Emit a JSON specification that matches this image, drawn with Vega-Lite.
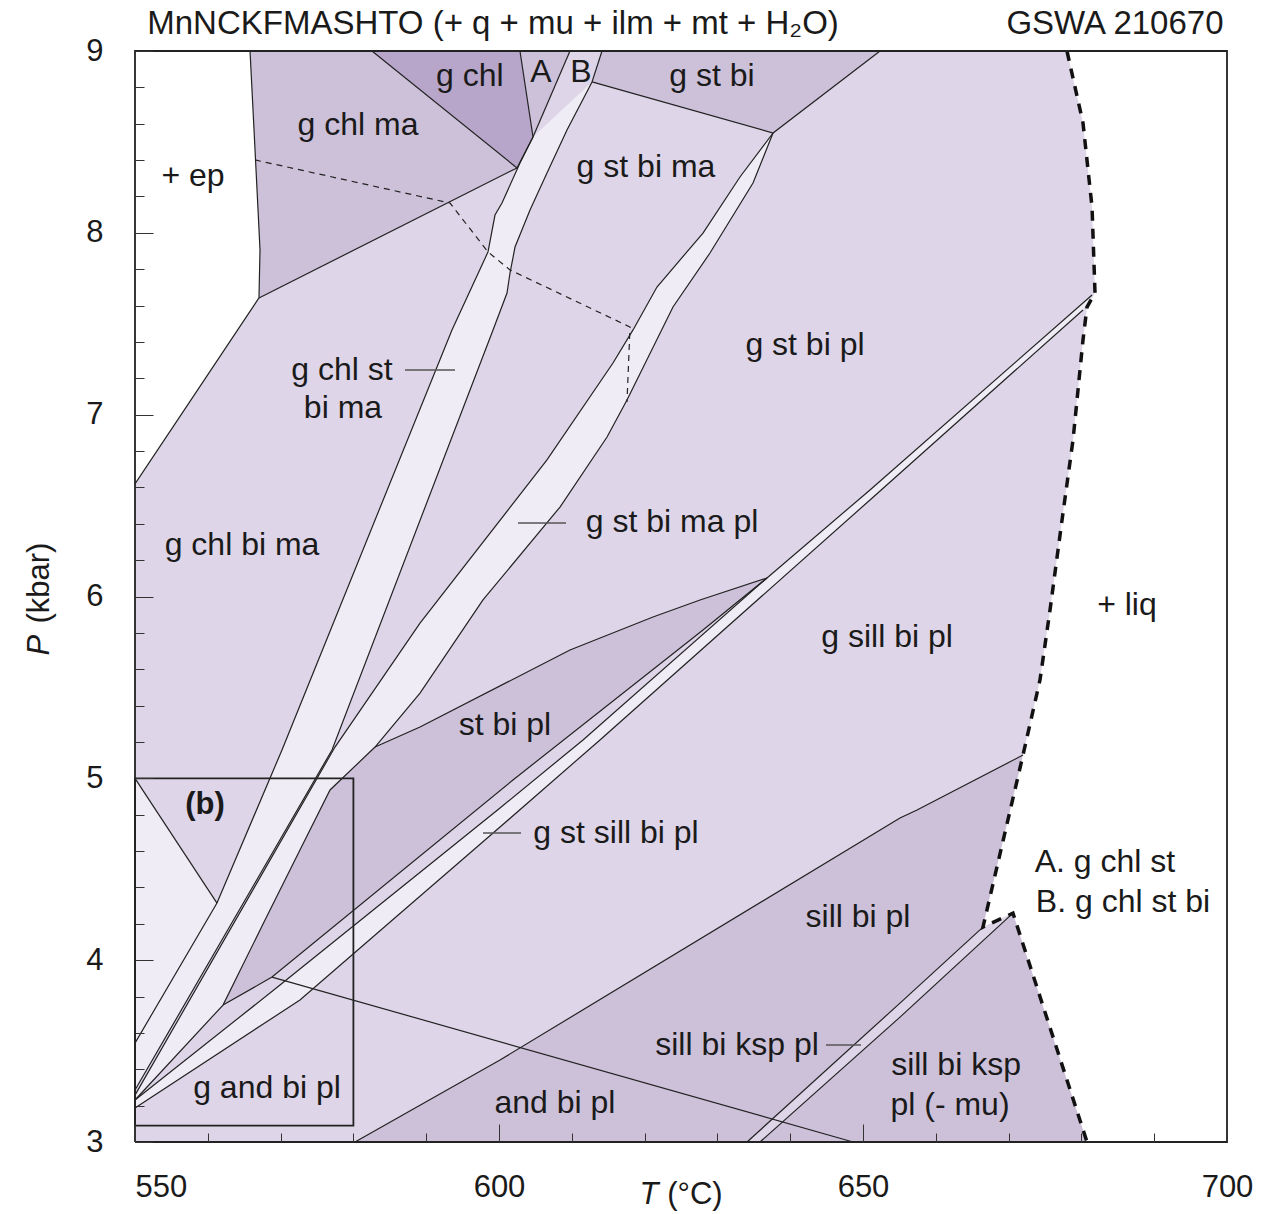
{
"$schema": "https://vega.github.io/schema/vega-lite/v6.json",
"width": 1092, "height": 1091,
"autosize": {"type": "none"},
"padding": {"left": 135, "top": 51, "right": 35, "bottom": 72},
"config": {"font": "Liberation Sans", "view": {"stroke": null}},
"datasets": {
"polys": [
{"region":"plot","tone":"mid","i":0,"T":550,"P":3},{"region":"plot","tone":"mid","i":1,"T":700,"P":3},{"region":"plot","tone":"mid","i":2,"T":700,"P":9},{"region":"plot","tone":"mid","i":3,"T":550,"P":9},
{"region":"g chl ma","tone":"dark","i":0,"T":565.8,"P":9},{"region":"g chl ma","tone":"dark","i":1,"T":582.55,"P":9},{"region":"g chl ma","tone":"dark","i":2,"T":602.47,"P":8.357},{"region":"g chl ma","tone":"dark","i":3,"T":567.03,"P":7.642},{"region":"g chl ma","tone":"dark","i":4,"T":567.17,"P":7.906},{"region":"g chl ma","tone":"dark","i":5,"T":566.9,"P":8.126},{"region":"g chl ma","tone":"dark","i":6,"T":566.35,"P":8.566},
{"region":"g chl","tone":"darkest","i":0,"T":582.55,"P":9},{"region":"g chl","tone":"darkest","i":1,"T":602.88,"P":9},{"region":"g chl","tone":"darkest","i":2,"T":604.67,"P":8.527},{"region":"g chl","tone":"darkest","i":3,"T":602.47,"P":8.357},
{"region":"A","tone":"dark","i":0,"T":602.88,"P":9},{"region":"A","tone":"dark","i":1,"T":609.75,"P":9},{"region":"A","tone":"dark","i":2,"T":604.67,"P":8.527},
{"region":"g st bi","tone":"dark","i":0,"T":614.15,"P":9},{"region":"g st bi","tone":"dark","i":1,"T":652.34,"P":9},{"region":"g st bi","tone":"dark","i":2,"T":637.64,"P":8.549},{"region":"g st bi","tone":"dark","i":3,"T":612.78,"P":8.83},
{"region":"st bi pl","tone":"dark","i":0,"T":636.81,"P":6.102},{"region":"st bi pl","tone":"dark","i":1,"T":627.61,"P":5.981},{"region":"st bi pl","tone":"dark","i":2,"T":621.15,"P":5.887},{"region":"st bi pl","tone":"dark","i":3,"T":609.75,"P":5.706},{"region":"st bi pl","tone":"dark","i":4,"T":589.15,"P":5.282},{"region":"st bi pl","tone":"dark","i":5,"T":582.97,"P":5.172},{"region":"st bi pl","tone":"dark","i":6,"T":576.79,"P":4.936},{"region":"st bi pl","tone":"dark","i":7,"T":572.66,"P":4.606},{"region":"st bi pl","tone":"dark","i":8,"T":567.86,"P":4.221},{"region":"st bi pl","tone":"dark","i":9,"T":562.09,"P":3.753},{"region":"st bi pl","tone":"dark","i":10,"T":568.82,"P":3.907},{"region":"st bi pl","tone":"dark","i":11,"T":601.92,"P":4.991},{"region":"st bi pl","tone":"dark","i":12,"T":628.02,"P":5.816},
{"region":"bottom","tone":"dark","i":0,"T":580.22,"P":3},{"region":"bottom","tone":"dark","i":1,"T":600.14,"P":3.451},{"region":"bottom","tone":"dark","i":2,"T":655.08,"P":4.782},{"region":"bottom","tone":"dark","i":3,"T":657.42,"P":4.826},{"region":"bottom","tone":"dark","i":4,"T":671.98,"P":5.128},{"region":"bottom","tone":"dark","i":5,"T":666.48,"P":4.182},{"region":"bottom","tone":"dark","i":6,"T":670.6,"P":4.259},{"region":"bottom","tone":"dark","i":7,"T":680.77,"P":3},
{"region":"band1","tone":"light","i":0,"T":604.67,"P":8.527},{"region":"band1","tone":"light","i":1,"T":602.88,"P":8.384},{"region":"band1","tone":"light","i":2,"T":600.41,"P":8.164},{"region":"band1","tone":"light","i":3,"T":599.45,"P":8.098},{"region":"band1","tone":"light","i":4,"T":598.49,"P":7.895},{"region":"band1","tone":"light","i":5,"T":593.54,"P":7.466},{"region":"band1","tone":"light","i":6,"T":570.19,"P":5.156},{"region":"band1","tone":"light","i":7,"T":561.26,"P":4.314},{"region":"band1","tone":"light","i":8,"T":550,"P":3.544},{"region":"band1","tone":"light","i":9,"T":550,"P":3.286},{"region":"band1","tone":"light","i":10,"T":577.06,"P":5.156},{"region":"band1","tone":"light","i":11,"T":599.18,"P":7.466},{"region":"band1","tone":"light","i":12,"T":601.1,"P":7.669},{"region":"band1","tone":"light","i":13,"T":601.51,"P":7.779},{"region":"band1","tone":"light","i":14,"T":602.2,"P":7.922},{"region":"band1","tone":"light","i":15,"T":604.26,"P":8.126},{"region":"band1","tone":"light","i":16,"T":606.59,"P":8.329},{"region":"band1","tone":"light","i":17,"T":609.34,"P":8.566},{"region":"band1","tone":"light","i":18,"T":612.78,"P":8.83},
{"region":"band2","tone":"light","i":0,"T":637.64,"P":8.549},{"region":"band2","tone":"light","i":1,"T":633.1,"P":8.307},{"region":"band2","tone":"light","i":2,"T":628.02,"P":7.999},{"region":"band2","tone":"light","i":3,"T":621.7,"P":7.702},{"region":"band2","tone":"light","i":4,"T":618.41,"P":7.466},{"region":"band2","tone":"light","i":5,"T":615.66,"P":7.284},{"region":"band2","tone":"light","i":6,"T":606.59,"P":6.751},{"region":"band2","tone":"light","i":7,"T":589.15,"P":5.854},{"region":"band2","tone":"light","i":8,"T":577.47,"P":5.172},{"region":"band2","tone":"light","i":9,"T":550,"P":3.258},{"region":"band2","tone":"light","i":10,"T":550,"P":3.231},{"region":"band2","tone":"light","i":11,"T":562.09,"P":3.753},{"region":"band2","tone":"light","i":12,"T":567.86,"P":4.221},{"region":"band2","tone":"light","i":13,"T":572.66,"P":4.606},{"region":"band2","tone":"light","i":14,"T":576.79,"P":4.936},{"region":"band2","tone":"light","i":15,"T":582.97,"P":5.172},{"region":"band2","tone":"light","i":16,"T":589.15,"P":5.469},{"region":"band2","tone":"light","i":17,"T":597.8,"P":5.981},{"region":"band2","tone":"light","i":18,"T":608.38,"P":6.492},{"region":"band2","tone":"light","i":19,"T":614.84,"P":6.877},{"region":"band2","tone":"light","i":20,"T":617.58,"P":7.081},{"region":"band2","tone":"light","i":21,"T":623.9,"P":7.592},{"region":"band2","tone":"light","i":22,"T":628.98,"P":7.889},{"region":"band2","tone":"light","i":23,"T":634.89,"P":8.274},
{"region":"leftwedge","tone":"light","i":0,"T":550,"P":5.0},{"region":"leftwedge","tone":"light","i":1,"T":561.26,"P":4.314},{"region":"leftwedge","tone":"light","i":2,"T":550,"P":3.544},
{"region":"gstsill","tone":"light","i":0,"T":681.46,"P":7.658},{"region":"gstsill","tone":"light","i":1,"T":650.96,"P":6.586},{"region":"gstsill","tone":"light","i":2,"T":636.81,"P":6.102},{"region":"gstsill","tone":"light","i":3,"T":611.54,"P":5.211},{"region":"gstsill","tone":"light","i":4,"T":600.14,"P":4.837},{"region":"gstsill","tone":"light","i":5,"T":569.92,"P":3.863},{"region":"gstsill","tone":"light","i":6,"T":550,"P":3.231},{"region":"gstsill","tone":"light","i":7,"T":550,"P":3.187},{"region":"gstsill","tone":"light","i":8,"T":572.66,"P":3.781},{"region":"gstsill","tone":"light","i":9,"T":600.14,"P":4.732},{"region":"gstsill","tone":"light","i":10,"T":613.87,"P":5.211},{"region":"gstsill","tone":"light","i":11,"T":650.96,"P":6.531},{"region":"gstsill","tone":"light","i":12,"T":680.22,"P":7.576},
{"region":"kspband","tone":"mid","i":0,"T":666.48,"P":4.182},{"region":"kspband","tone":"mid","i":1,"T":655.08,"P":3.764},{"region":"kspband","tone":"mid","i":2,"T":634.07,"P":3.0},{"region":"kspband","tone":"mid","i":3,"T":635.85,"P":3.0},{"region":"kspband","tone":"mid","i":4,"T":655.08,"P":3.687},{"region":"kspband","tone":"mid","i":5,"T":670.6,"P":4.259},
{"region":"ep","tone":"white","i":0,"T":550,"P":9},{"region":"ep","tone":"white","i":1,"T":565.8,"P":9},{"region":"ep","tone":"white","i":2,"T":566.35,"P":8.566},{"region":"ep","tone":"white","i":3,"T":566.9,"P":8.126},{"region":"ep","tone":"white","i":4,"T":567.17,"P":7.906},{"region":"ep","tone":"white","i":5,"T":567.03,"P":7.642},{"region":"ep","tone":"white","i":6,"T":550,"P":6.619},
{"region":"liq","tone":"white","i":0,"T":678.02,"P":9},{"region":"liq","tone":"white","i":1,"T":680.22,"P":8.604},{"region":"liq","tone":"white","i":2,"T":681.46,"P":8.142},{"region":"liq","tone":"white","i":3,"T":681.87,"P":7.669},{"region":"liq","tone":"white","i":4,"T":680.77,"P":7.592},{"region":"liq","tone":"white","i":5,"T":680.22,"P":7.411},{"region":"liq","tone":"white","i":6,"T":678.85,"P":6.861},{"region":"liq","tone":"white","i":7,"T":677.34,"P":6.421},{"region":"liq","tone":"white","i":8,"T":675.69,"P":5.926},{"region":"liq","tone":"white","i":9,"T":674.31,"P":5.541},{"region":"liq","tone":"white","i":10,"T":671.98,"P":5.128},{"region":"liq","tone":"white","i":11,"T":666.48,"P":4.182},{"region":"liq","tone":"white","i":12,"T":670.6,"P":4.259},{"region":"liq","tone":"white","i":13,"T":680.77,"P":3.0},{"region":"liq","tone":"white","i":14,"T":700,"P":3},{"region":"liq","tone":"white","i":15,"T":700,"P":9}
],
"lines": [
{"line":"ep","kind":"solid","i":0,"T":565.8,"P":9},{"line":"ep","kind":"solid","i":1,"T":566.35,"P":8.566},{"line":"ep","kind":"solid","i":2,"T":566.9,"P":8.126},{"line":"ep","kind":"solid","i":3,"T":567.17,"P":7.906},{"line":"ep","kind":"solid","i":4,"T":567.03,"P":7.642},{"line":"ep","kind":"solid","i":5,"T":550,"P":6.619},
{"line":"chlma","kind":"solid","i":0,"T":567.03,"P":7.642},{"line":"chlma","kind":"solid","i":1,"T":602.47,"P":8.357},
{"line":"gchl","kind":"solid","i":0,"T":582.55,"P":9},{"line":"gchl","kind":"solid","i":1,"T":602.47,"P":8.357},
{"line":"Aleft","kind":"solid","i":0,"T":602.88,"P":9},{"line":"Aleft","kind":"solid","i":1,"T":604.67,"P":8.527},{"line":"Aleft","kind":"solid","i":2,"T":602.47,"P":8.357},
{"line":"AB","kind":"solid","i":0,"T":609.75,"P":9},{"line":"AB","kind":"solid","i":1,"T":604.67,"P":8.527},
{"line":"Bright","kind":"solid","i":0,"T":614.15,"P":9},{"line":"Bright","kind":"solid","i":1,"T":612.78,"P":8.83},
{"line":"gstbi","kind":"solid","i":0,"T":612.78,"P":8.83},{"line":"gstbi","kind":"solid","i":1,"T":637.64,"P":8.549},{"line":"gstbi","kind":"solid","i":2,"T":652.34,"P":9},
{"line":"L1","kind":"solid","i":0,"T":604.67,"P":8.527},{"line":"L1","kind":"solid","i":1,"T":602.88,"P":8.384},{"line":"L1","kind":"solid","i":2,"T":600.41,"P":8.164},{"line":"L1","kind":"solid","i":3,"T":599.45,"P":8.098},{"line":"L1","kind":"solid","i":4,"T":598.49,"P":7.895},{"line":"L1","kind":"solid","i":5,"T":593.54,"P":7.466},{"line":"L1","kind":"solid","i":6,"T":570.19,"P":5.156},{"line":"L1","kind":"solid","i":7,"T":561.26,"P":4.314},{"line":"L1","kind":"solid","i":8,"T":550,"P":3.544},
{"line":"R1","kind":"solid","i":0,"T":612.78,"P":8.83},{"line":"R1","kind":"solid","i":1,"T":609.34,"P":8.566},{"line":"R1","kind":"solid","i":2,"T":606.59,"P":8.329},{"line":"R1","kind":"solid","i":3,"T":604.26,"P":8.126},{"line":"R1","kind":"solid","i":4,"T":602.2,"P":7.922},{"line":"R1","kind":"solid","i":5,"T":601.51,"P":7.779},{"line":"R1","kind":"solid","i":6,"T":601.1,"P":7.669},{"line":"R1","kind":"solid","i":7,"T":599.18,"P":7.466},{"line":"R1","kind":"solid","i":8,"T":577.06,"P":5.156},{"line":"R1","kind":"solid","i":9,"T":550,"P":3.286},
{"line":"L2","kind":"solid","i":0,"T":637.64,"P":8.549},{"line":"L2","kind":"solid","i":1,"T":633.1,"P":8.307},{"line":"L2","kind":"solid","i":2,"T":628.02,"P":7.999},{"line":"L2","kind":"solid","i":3,"T":621.7,"P":7.702},{"line":"L2","kind":"solid","i":4,"T":618.41,"P":7.466},{"line":"L2","kind":"solid","i":5,"T":615.66,"P":7.284},{"line":"L2","kind":"solid","i":6,"T":606.59,"P":6.751},{"line":"L2","kind":"solid","i":7,"T":589.15,"P":5.854},{"line":"L2","kind":"solid","i":8,"T":577.47,"P":5.172},{"line":"L2","kind":"solid","i":9,"T":550,"P":3.258},
{"line":"R2","kind":"solid","i":0,"T":637.64,"P":8.549},{"line":"R2","kind":"solid","i":1,"T":634.89,"P":8.274},{"line":"R2","kind":"solid","i":2,"T":628.98,"P":7.889},{"line":"R2","kind":"solid","i":3,"T":623.9,"P":7.592},{"line":"R2","kind":"solid","i":4,"T":617.58,"P":7.081},{"line":"R2","kind":"solid","i":5,"T":614.84,"P":6.877},{"line":"R2","kind":"solid","i":6,"T":608.38,"P":6.492},{"line":"R2","kind":"solid","i":7,"T":597.8,"P":5.981},{"line":"R2","kind":"solid","i":8,"T":589.15,"P":5.469},{"line":"R2","kind":"solid","i":9,"T":582.97,"P":5.172},{"line":"R2","kind":"solid","i":10,"T":576.79,"P":4.936},{"line":"R2","kind":"solid","i":11,"T":572.66,"P":4.606},{"line":"R2","kind":"solid","i":12,"T":567.86,"P":4.221},{"line":"R2","kind":"solid","i":13,"T":562.09,"P":3.753},{"line":"R2","kind":"solid","i":14,"T":550,"P":3.231},
{"line":"stbiplU","kind":"solid","i":0,"T":636.81,"P":6.102},{"line":"stbiplU","kind":"solid","i":1,"T":627.61,"P":5.981},{"line":"stbiplU","kind":"solid","i":2,"T":621.15,"P":5.887},{"line":"stbiplU","kind":"solid","i":3,"T":609.75,"P":5.706},{"line":"stbiplU","kind":"solid","i":4,"T":589.15,"P":5.282},{"line":"stbiplU","kind":"solid","i":5,"T":582.97,"P":5.172},
{"line":"stbiplB","kind":"solid","i":0,"T":562.09,"P":3.753},{"line":"stbiplB","kind":"solid","i":1,"T":568.82,"P":3.907},{"line":"stbiplB","kind":"solid","i":2,"T":601.92,"P":4.991},{"line":"stbiplB","kind":"solid","i":3,"T":628.02,"P":5.816},{"line":"stbiplB","kind":"solid","i":4,"T":636.81,"P":6.102},
{"line":"sillU","kind":"solid","i":0,"T":681.46,"P":7.658},{"line":"sillU","kind":"solid","i":1,"T":650.96,"P":6.586},{"line":"sillU","kind":"solid","i":2,"T":636.81,"P":6.102},{"line":"sillU","kind":"solid","i":3,"T":611.54,"P":5.211},{"line":"sillU","kind":"solid","i":4,"T":600.14,"P":4.837},{"line":"sillU","kind":"solid","i":5,"T":569.92,"P":3.863},{"line":"sillU","kind":"solid","i":6,"T":550,"P":3.231},
{"line":"sillL","kind":"solid","i":0,"T":680.22,"P":7.576},{"line":"sillL","kind":"solid","i":1,"T":650.96,"P":6.531},{"line":"sillL","kind":"solid","i":2,"T":613.87,"P":5.211},{"line":"sillL","kind":"solid","i":3,"T":600.14,"P":4.732},{"line":"sillL","kind":"solid","i":4,"T":572.66,"P":3.781},{"line":"sillL","kind":"solid","i":5,"T":550,"P":3.187},
{"line":"tri","kind":"solid","i":0,"T":550,"P":5.0},{"line":"tri","kind":"solid","i":1,"T":561.26,"P":4.314},
{"line":"and","kind":"solid","i":0,"T":568.82,"P":3.907},{"line":"and","kind":"solid","i":1,"T":648.63,"P":3.0},
{"line":"sill","kind":"solid","i":0,"T":580.22,"P":3},{"line":"sill","kind":"solid","i":1,"T":600.14,"P":3.451},{"line":"sill","kind":"solid","i":2,"T":655.08,"P":4.782},{"line":"sill","kind":"solid","i":3,"T":657.42,"P":4.826},{"line":"sill","kind":"solid","i":4,"T":671.98,"P":5.128},
{"line":"kspU","kind":"solid","i":0,"T":666.48,"P":4.182},{"line":"kspU","kind":"solid","i":1,"T":655.08,"P":3.764},{"line":"kspU","kind":"solid","i":2,"T":634.07,"P":3.0},
{"line":"kspL","kind":"solid","i":0,"T":670.6,"P":4.259},{"line":"kspL","kind":"solid","i":1,"T":655.08,"P":3.687},{"line":"kspL","kind":"solid","i":2,"T":635.85,"P":3.0},
{"line":"epout","kind":"dash","i":0,"T":566.48,"P":8.401},{"line":"epout","kind":"dash","i":1,"T":593.27,"P":8.164},{"line":"epout","kind":"dash","i":2,"T":598.49,"P":7.895},{"line":"epout","kind":"dash","i":3,"T":601.51,"P":7.796},{"line":"epout","kind":"dash","i":4,"T":618.0,"P":7.482},{"line":"epout","kind":"dash","i":5,"T":617.58,"P":7.07},
{"line":"liq","kind":"liq","i":0,"T":678.02,"P":9},{"line":"liq","kind":"liq","i":1,"T":680.22,"P":8.604},{"line":"liq","kind":"liq","i":2,"T":681.46,"P":8.142},{"line":"liq","kind":"liq","i":3,"T":681.87,"P":7.669},{"line":"liq","kind":"liq","i":4,"T":680.77,"P":7.592},{"line":"liq","kind":"liq","i":5,"T":680.22,"P":7.411},{"line":"liq","kind":"liq","i":6,"T":678.85,"P":6.861},{"line":"liq","kind":"liq","i":7,"T":677.34,"P":6.421},{"line":"liq","kind":"liq","i":8,"T":675.69,"P":5.926},{"line":"liq","kind":"liq","i":9,"T":674.31,"P":5.541},{"line":"liq","kind":"liq","i":10,"T":671.98,"P":5.128},{"line":"liq","kind":"liq","i":11,"T":666.48,"P":4.182},{"line":"liq","kind":"liq","i":12,"T":670.6,"P":4.259},{"line":"liq","kind":"liq","i":13,"T":680.77,"P":3.0},
{"line":"box","kind":"box","i":0,"T":550,"P":5},{"line":"box","kind":"box","i":1,"T":580,"P":5},{"line":"box","kind":"box","i":2,"T":580,"P":3.09},{"line":"box","kind":"box","i":3,"T":550,"P":3.09},{"line":"box","kind":"box","i":4,"T":550,"P":5},
{"line":"frame","kind":"box","i":0,"T":550,"P":3},{"line":"frame","kind":"box","i":1,"T":700,"P":3},{"line":"frame","kind":"box","i":2,"T":700,"P":9},{"line":"frame","kind":"box","i":3,"T":550,"P":9},{"line":"frame","kind":"box","i":4,"T":550,"P":3},
{"line":"p1","kind":"pointer","i":0,"T":587.09,"P":7.246},{"line":"p1","kind":"pointer","i":1,"T":593.96,"P":7.246},
{"line":"p2","kind":"pointer","i":0,"T":602.61,"P":6.404},{"line":"p2","kind":"pointer","i":1,"T":609.2,"P":6.404},
{"line":"p3","kind":"pointer","i":0,"T":597.8,"P":4.699},{"line":"p3","kind":"pointer","i":1,"T":603.02,"P":4.699},
{"line":"p4","kind":"pointer","i":0,"T":644.92,"P":3.533},{"line":"p4","kind":"pointer","i":1,"T":649.73,"P":3.533}
],
"texts": [
{"text":"+ ep","kind":"label","T":557.97,"P":8.313},
{"text":"g chl ma","kind":"label","T":580.63,"P":8.593},
{"text":"g chl","kind":"label","T":596.0,"P":8.862},
{"text":"A","kind":"label","T":605.77,"P":8.885},
{"text":"B","kind":"label","T":611.27,"P":8.885},
{"text":"g st bi","kind":"label","T":629.26,"P":8.862},
{"text":"g st bi ma","kind":"label","T":620.19,"P":8.362},
{"text":"g st bi pl","kind":"label","T":642.03,"P":7.383},
{"text":"g chl st","kind":"label","T":578.44,"P":7.246},
{"text":"bi ma","kind":"label","T":578.57,"P":7.037},
{"text":"g chl bi ma","kind":"label","T":564.7,"P":6.283},
{"text":"g st bi ma pl","kind":"label","T":623.77,"P":6.41},
{"text":"+ liq","kind":"label","T":686.26,"P":5.953},
{"text":"g sill bi pl","kind":"label","T":653.3,"P":5.777},
{"text":"st bi pl","kind":"label","T":600.82,"P":5.293},
{"text":"(b)","kind":"bold","T":559.62,"P":4.853},
{"text":"g st sill bi pl","kind":"label","T":616.07,"P":4.699},
{"text":"A. g chl st","kind":"label","T":683.24,"P":4.54},
{"text":"B. g chl st bi","kind":"label","T":685.71,"P":4.32},
{"text":"sill bi pl","kind":"label","T":649.31,"P":4.237},
{"text":"sill bi ksp pl","kind":"label","T":632.69,"P":3.533},
{"text":"sill bi ksp","kind":"label","T":662.78,"P":3.423},
{"text":"pl (- mu)","kind":"label","T":661.95,"P":3.203},
{"text":"g and bi pl","kind":"label","T":568.13,"P":3.297},
{"text":"and bi pl","kind":"label","T":607.69,"P":3.214},
{"text":"MnNCKFMASHTO (+ q + mu + ilm + mt + H₂O)","kind":"title","T":599.18,"P":9.148},
{"text":"GSWA 210670","kind":"title","T":684.61,"P":9.148},
{"text":"T","kind":"ital","T":620.6,"P":2.708},
{"text":"(°C)","kind":"axn","T":626.92,"P":2.708},
{"text":"P","kind":"rotital","T":536.95,"P":5.733},
{"text":"(kbar)","kind":"rot","T":536.95,"P":6.074}
]
},
"encoding": {
"x": {"field": "T", "type": "quantitative", "scale": {"domain": [550, 700], "nice": false, "zero": false},
 "axis": {"values": [550,560,570,580,590,600,610,620,630,640,650,660,670,680,690,700],
  "labelExpr": "datum.value % 50 === 0 ? format(datum.value, 'd') : ''",
  "labelAlign": {"condition": {"test": "datum.value === 550", "value": "left"}, "value": "center"},
  "tickSize": {"condition": {"test": "datum.value % 50 === 0", "value": -18}, "value": -9},
  "tickColor": "#333", "tickWidth": 1, "labelPadding": 48, "labelFontSize": 31, "labelColor": "#1a1a1a",
  "domain": false, "grid": false, "title": null, "labelFlush": false, "zindex": 1}},
"y": {"field": "P", "type": "quantitative", "scale": {"domain": [3, 9], "nice": false, "zero": false},
 "axis": {"values": [3,3.2,3.4,3.6,3.8,4,4.2,4.4,4.6,4.8,5,5.2,5.4,5.6,5.8,6,6.2,6.4,6.6,6.8,7,7.2,7.4,7.6,7.8,8,8.2,8.4,8.6,8.8,9],
  "labelExpr": "datum.value % 1 === 0 ? format(datum.value, 'd') : ''",
  "tickSize": {"condition": {"test": "datum.value % 1 === 0", "value": -18}, "value": -9},
  "tickColor": "#333", "tickWidth": 1, "labelPadding": 50, "labelFontSize": 31, "labelColor": "#1a1a1a",
  "domain": false, "grid": false, "title": null, "labelFlush": false, "zindex": 1}}
},
"layer": [
{"data": {"name": "polys"}, "transform": [{"filter": "datum.region == 'plot'"}],
 "mark": {"type": "line", "interpolate": "linear-closed", "strokeWidth": 0},
 "encoding": {"detail": {"field": "region"}, "order": {"field": "i", "type": "quantitative"},
  "fill": {"field": "tone", "type": "nominal", "scale": {"domain": ["white","light","mid","dark","darkest"], "range": ["#ffffff","#f0ecf5","#ded6e8","#cdc1da","#b7a6ca"]}, "legend": null}}},
{"data": {"name": "polys"}, "transform": [{"filter": "datum.tone == 'dark' || datum.tone == 'darkest'"}],
 "mark": {"type": "line", "interpolate": "linear-closed", "strokeWidth": 0},
 "encoding": {"detail": {"field": "region"}, "order": {"field": "i", "type": "quantitative"},
  "fill": {"field": "tone", "type": "nominal", "scale": {"domain": ["white","light","mid","dark","darkest"], "range": ["#ffffff","#f0ecf5","#ded6e8","#cdc1da","#b7a6ca"]}, "legend": null}}},
{"data": {"name": "polys"}, "transform": [{"filter": "datum.tone == 'light' || datum.region == 'kspband'"}],
 "mark": {"type": "line", "interpolate": "linear-closed", "strokeWidth": 0},
 "encoding": {"detail": {"field": "region"}, "order": {"field": "i", "type": "quantitative"},
  "fill": {"field": "tone", "type": "nominal", "scale": {"domain": ["white","light","mid","dark","darkest"], "range": ["#ffffff","#f0ecf5","#ded6e8","#cdc1da","#b7a6ca"]}, "legend": null}}},
{"data": {"name": "polys"}, "transform": [{"filter": "datum.tone == 'white'"}],
 "mark": {"type": "line", "interpolate": "linear-closed", "strokeWidth": 0},
 "encoding": {"detail": {"field": "region"}, "order": {"field": "i", "type": "quantitative"},
  "fill": {"field": "tone", "type": "nominal", "scale": {"domain": ["white","light","mid","dark","darkest"], "range": ["#ffffff","#f0ecf5","#ded6e8","#cdc1da","#b7a6ca"]}, "legend": null}}},
{"data": {"name": "lines"}, "transform": [{"filter": "datum.kind == 'solid'"}],
 "mark": {"type": "line", "color": "#222", "strokeWidth": 1.2},
 "encoding": {"detail": {"field": "line"}, "order": {"field": "i", "type": "quantitative"}}},
{"data": {"name": "lines"}, "transform": [{"filter": "datum.kind == 'dash'"}],
 "mark": {"type": "line", "color": "#222", "strokeWidth": 1.2, "strokeDash": [6, 5]},
 "encoding": {"detail": {"field": "line"}, "order": {"field": "i", "type": "quantitative"}}},
{"data": {"name": "lines"}, "transform": [{"filter": "datum.kind == 'liq'"}],
 "mark": {"type": "line", "color": "#111", "strokeWidth": 3.5, "strokeDash": [10, 8]},
 "encoding": {"detail": {"field": "line"}, "order": {"field": "i", "type": "quantitative"}}},
{"data": {"name": "lines"}, "transform": [{"filter": "datum.kind == 'box'"}],
 "mark": {"type": "line", "color": "#222", "strokeWidth": 1.8},
 "encoding": {"detail": {"field": "line"}, "order": {"field": "i", "type": "quantitative"}}},
{"data": {"name": "lines"}, "transform": [{"filter": "datum.kind == 'pointer'"}],
 "mark": {"type": "line", "color": "#555", "strokeWidth": 1.5},
 "encoding": {"detail": {"field": "line"}, "order": {"field": "i", "type": "quantitative"}}},
{"data": {"name": "texts"}, "transform": [{"filter": "datum.kind == 'label'"}],
 "mark": {"type": "text", "fontSize": 32, "color": "#1a1a1a", "align": "center", "baseline": "middle"},
 "encoding": {"text": {"field": "text"}}},
{"data": {"name": "texts"}, "transform": [{"filter": "datum.kind == 'bold'"}],
 "mark": {"type": "text", "fontSize": 31, "fontWeight": "bold", "color": "#1a1a1a", "align": "center", "baseline": "middle"},
 "encoding": {"text": {"field": "text"}}},
{"data": {"name": "texts"}, "transform": [{"filter": "datum.kind == 'title'"}],
 "mark": {"type": "text", "fontSize": 33, "color": "#1a1a1a", "align": "center", "baseline": "middle"},
 "encoding": {"text": {"field": "text"}}},
{"data": {"name": "texts"}, "transform": [{"filter": "datum.kind == 'ital'"}],
 "mark": {"type": "text", "fontSize": 31, "fontStyle": "italic", "color": "#1a1a1a", "align": "center", "baseline": "middle"},
 "encoding": {"text": {"field": "text"}}},
{"data": {"name": "texts"}, "transform": [{"filter": "datum.kind == 'axn'"}],
 "mark": {"type": "text", "fontSize": 31, "color": "#1a1a1a", "align": "center", "baseline": "middle"},
 "encoding": {"text": {"field": "text"}}},
{"data": {"name": "texts"}, "transform": [{"filter": "datum.kind == 'rotital'"}],
 "mark": {"type": "text", "fontSize": 31, "fontStyle": "italic", "angle": 270, "color": "#1a1a1a", "align": "center", "baseline": "middle"},
 "encoding": {"text": {"field": "text"}}},
{"data": {"name": "texts"}, "transform": [{"filter": "datum.kind == 'rot'"}],
 "mark": {"type": "text", "fontSize": 31, "angle": 270, "color": "#1a1a1a", "align": "center", "baseline": "middle"},
 "encoding": {"text": {"field": "text"}}}
]
}
